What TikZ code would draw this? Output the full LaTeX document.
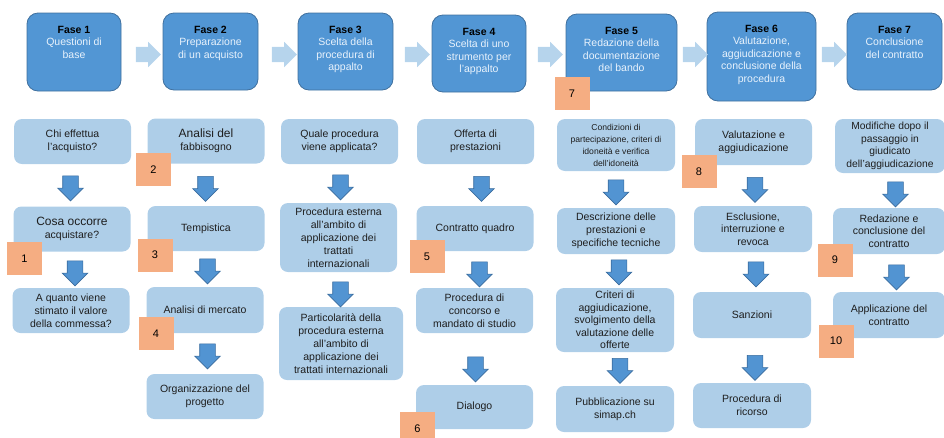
\documentclass[tikz,border=0pt]{standalone}
\usepackage{fontspec}
\setmainfont{Liberation Sans}
\usepackage{tikz}
\usetikzlibrary{
  shapes.arrows,
  positioning
}
\usepackage{xcolor}
\definecolor{fblue}{RGB}{82,150,212}
\definecolor{fborder}{RGB}{64,112,158}
\definecolor{lblue}{RGB}{174,206,232}
\definecolor{rblue}{RGB}{182,212,236}
\definecolor{dblue}{RGB}{82,148,210}
\definecolor{dborder}{RGB}{58,108,158}
\definecolor{badge}{RGB}{245,173,130}
\definecolor{ftext}{RGB}{232,242,252}
\definecolor{itext}{RGB}{30,30,30}
\tikzset{
  fase/.style={
    rectangle, rounded corners=11pt,
    fill=fblue, draw=fborder, line width=0.8pt,
    inner sep=0pt
  },
  fasetxt/.style={
    anchor=north, inner sep=0pt, align=center, text=ftext,
    font=\fontsize{10.5}{12.5}\selectfont
  },
  item/.style={
    rectangle, rounded corners=8pt,
    fill=lblue, draw=none, inner sep=0pt,
    minimum width=117pt, minimum height=45pt,
    font=\fontsize{10.5}{13}\selectfont, text=itext, align=center
  },
  num/.style={
    rectangle, fill=badge, inner sep=0pt,
    minimum width=35pt, minimum height=33pt,
    font=\fontsize{11}{13}\selectfont, text=black
  },
  blockarr/.style={
    single arrow, inner xsep=0pt, inner ysep=7.5pt,
    minimum width=25pt, minimum height=25pt,
    single arrow head extend=5pt, single arrow tip angle=90
  },
  darr/.style={
    blockarr, rotate=-90, fill=dblue, draw=dborder, line width=0.6pt
  },
  rarr/.style={
    blockarr, fill=rblue, draw=none
  }
}

\begin{document}
\begin{tikzpicture}[x=1pt, y=-1pt]
    \useasboundingbox (0,0) rectangle (944,437);

    %% ---- Phases --------------------------------------------------
    \node[fase, minimum width=94pt,  minimum height=78pt] (f1) at (74,52)     {};
    \node[fase, minimum width=95pt,  minimum height=77pt] (f2) at (210.5,51.5) {};
    \node[fase, minimum width=95pt,  minimum height=77pt] (f3) at (345.5,51.5) {};
    \node[fase, minimum width=94pt,  minimum height=77pt] (f4) at (479,53.5)  {};
    \node[fase, minimum width=111pt, minimum height=77pt] (f5) at (621.5,52.5) {};
    \node[fase, minimum width=109pt, minimum height=89pt] (f6) at (761.5,56.5) {};
    \node[fase, minimum width=95pt,  minimum height=77pt] (f7) at (894.5,51.5) {};

    \node[fasetxt, below=13pt of f1.north] (t1)
      {\textcolor{black}{\textbf{Fase 1}}\\Questioni di\\base};
    \node[fasetxt, below=13pt of f2.north] (t2)
      {\textcolor{black}{\textbf{Fase 2}}\\Preparazione\\di un acquisto};
    \node[fasetxt, below=13pt of f3.north] (t3)
      {\textcolor{black}{\textbf{Fase 3}}\\Scelta della\\procedura di\\appalto};
    \node[fasetxt, below=13pt of f4.north] (t4)
      {\textcolor{black}{\textbf{Fase 4}}\\Scelta di uno\\strumento per\\l’appalto};
    \node[fasetxt, below=13pt of f5.north] (t5)
      {\textcolor{black}{\textbf{Fase 5}}\\Redazione della\\documentazione\\del bando};
    \node[fasetxt, below=13pt of f6.north] (t6)
      {\textcolor{black}{\textbf{Fase 6}}\\Valutazione,\\aggiudicazione e\\conclusione della\\procedura};
    \node[fasetxt, below=13pt of f7.north] (t7)
      {\textcolor{black}{\textbf{Fase 7}}\\Conclusione\\del contratto};

    \foreach \x/\i in {144.5/1,280.5/2,413.5/3,546.5/4,691.5/5,830.5/6}
      \node[rarr] (r\i) at (\x,54.5) {};

    %% ---- Fase 1 / Fase 2 -----------------------------------------
    \node[item] (a1) at (72.5,141.5) {Chi effettua\\l’acquisto?};
    \node[item] (a2) at (72,229)
      {{\fontsize{12}{14}\selectfont Cosa occorre}\\acquistare?};
    \node[item] (a3) at (71,310.5)
      {A quanto viene\\stimato il valore\\della commessa?};

    \node[item] (b1) at (206,141)
      {\fontsize{12}{15}\selectfont Analisi del\\fabbisogno};
    \node[item] (b2) at (206,228.5) {Tempistica};
    \node[item, minimum height=46pt] (b3) at (205,310) {Analisi di mercato};
    \node[item] (b4) at (205,396.5) {Organizzazione del\\progetto};

    %% ---- Fase 3 / Fase 4 -----------------------------------------
    \node[item] (c1) at (339.5,141.5) {Quale procedura\\viene applicata?};
    \node[item, minimum height=69pt] (c2) at (338.5,237.5)
      {Procedura esterna\\all’ambito di\\applicazione dei\\trattati\\internazionali};
    \node[item, minimum width=124pt, minimum height=73pt] (c3) at (341,343.5)
      {Particolarità della\\procedura esterna\\all’ambito di\\applicazione dei\\trattati internazionali};

    \node[item] (d1) at (475.5,141.5) {Offerta di\\prestazioni};
    \node[item] (d2) at (475,228.5) {Contratto quadro};
    \node[item] (d3) at (474.5,310.5)
      {Procedura di\\concorso e\\mandato di studio};
    \node[item, minimum height=44pt] (d4) at (474.5,407) {Dialogo};

    %% ---- Fase 5 / Fase 6 / Fase 7 --------------------------------
    \node[item, minimum width=118pt, minimum height=52pt,
          font=\fontsize{8.6}{12}\selectfont] (e1) at (616,145)
      {Condizioni di\\partecipazione, criteri di\\idoneità e verifica\\dell’idoneità};
    \node[item, minimum width=118pt, minimum height=46pt] (e2) at (616,231)
      {Descrizione delle\\prestazioni e\\specifiche tecniche};
    \node[item, minimum width=118pt, minimum height=64pt,
          font=\fontsize{10.5}{12.5}\selectfont] (e3) at (615,320)
      {Criteri di\\aggiudicazione,\\svolgimento della\\valutazione delle\\offerte};
    \node[item, minimum width=118pt, minimum height=46pt] (e4) at (615,409)
      {Pubblicazione su\\simap.ch};

    \node[item, minimum height=46pt] (g1) at (753.5,142)
      {Valutazione e\\aggiudicazione};
    \node[item, minimum width=118pt, minimum height=46pt,
          font=\fontsize{10.5}{12.5}\selectfont] (g2) at (753,229)
      {Esclusione,\\interruzione e\\revoca};
    \node[item, minimum width=118pt, minimum height=46pt] (g3) at (752,315) {Sanzioni};
    \node[item, minimum width=118pt] (g4) at (752,405.5) {Procedura di\\ricorso};

    \node[item, minimum width=110pt, minimum height=54pt,
          font=\fontsize{10.3}{12.5}\selectfont] (h1) at (890,146)
      {Modifiche dopo il\\passaggio in\\giudicato\\dell’aggiudicazione};
    \node[item, minimum width=112pt, minimum height=46pt,
          font=\fontsize{10.5}{12.5}\selectfont] (h2) at (889,231)
      {Redazione e\\conclusione del\\contratto};
    \node[item, minimum width=112pt, minimum height=46pt] (h3) at (889,315)
      {Applicazione del\\contratto};

    %% ---- Down arrows ---------------------------------------------
    \foreach \x/\y/\n in {70.5/184.5/da1, 75/269.5/da2,
                          205.5/185/db1, 207.5/267.5/db2, 207.5/352.5/db3,
                          340.5/183.5/dc1, 340.5/290.5/dc2,
                          481.5/185/dd1, 479.5/270.5/dd2, 475.5/365.5/dd3,
                          616/188.5/de1, 619/268.5/de2, 620/367/de3,
                          755/186/dg1, 756/270.5/dg2, 755/364/dg3,
                          895.5/190.5/dh1, 896.5/273.5/dh2}
      \node[darr] (\n) at (\x,\y) {};

    %% ---- Numbered badges -----------------------------------------
    \foreach \x/\y/\t in {24.5/258.5/1, 153.5/169.5/2, 155/255/3, 156/333.5/4,
                          427/256.5/5, 417.5/428.5/6, 572/93.5/7,
                          699/171.5/8, 835/260/9, 836/341/10}
      \node[num] (n\t) at (\x,\y) {\t};

  \end{tikzpicture}
\end{document}
